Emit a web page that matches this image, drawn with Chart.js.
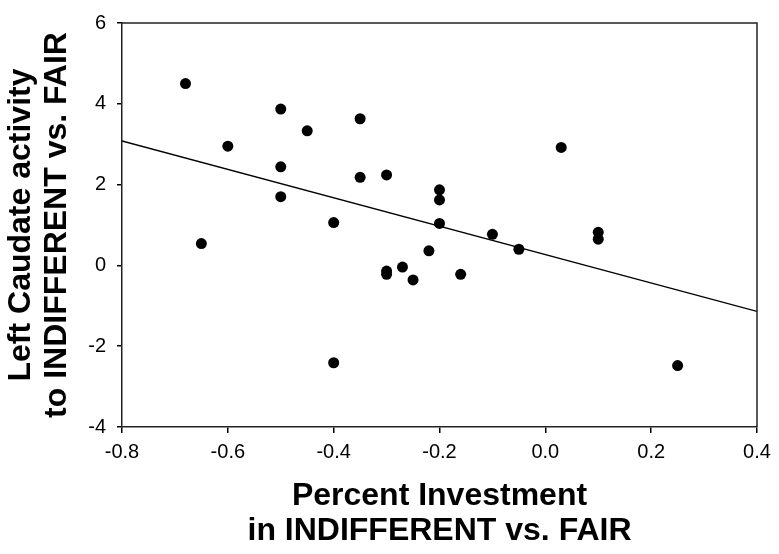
<!DOCTYPE html>
<html>
<head>
<meta charset="utf-8">
<script src="https://cdn.jsdelivr.net/npm/chart.js@4"></script>
<style>
  html, body { margin: 0; padding: 0; background: #fff; }
  canvas { display: block; }
</style>
</head>
<body>
<canvas id="myChart" width="779" height="554"></canvas>
<script>
// percent investment (x) vs. left caudate activity (y)
const investX = [-0.68, -0.65, -0.60, -0.50, -0.50, -0.50, -0.45, -0.40, -0.40, -0.35, -0.35, -0.30, -0.30, -0.30,
    -0.27, -0.25, -0.22, -0.20, -0.20, -0.20, -0.16, -0.10, -0.05, 0.03, 0.10, 0.10, 0.25];
const caudateY = [4.50, 0.54, 2.95, 3.87, 2.44, 1.70, 3.33, 1.06, -2.41, 3.63, 2.18, 2.24, -0.14, -0.22,
    -0.04, -0.36, 0.36, 1.87, 1.62, 1.04, -0.22, 0.77, 0.40, 2.92, 0.82, 0.65, -2.48];

// regression line end points
const fitX = [-0.8, 0.4];
const fitY = [3.08, -1.14];

const xTicks = [-0.8, -0.6, -0.4, -0.2, 0.0, 0.2, 0.4];
const xTickLabels = ['-0.8', '-0.6', '-0.4', '-0.2', '0.0', '0.2', '0.4'];
const yTicks = [-4, -2, 0, 2, 4, 6];
const yTickLabels = ['-4', '-2', '0', '2', '4', '6'];

const FONT = "'Liberation Sans', Arial, sans-serif";

const frame = {
    id: 'frame',
    afterDraw(chart) {
        const {ctx, chartArea: a} = chart;
        ctx.save();
        ctx.strokeStyle = '#222';
        ctx.lineWidth = 1.5;
        ctx.beginPath();
        ctx.moveTo(a.left, a.top);
        ctx.lineTo(a.right, a.top);
        ctx.lineTo(a.right, a.bottom);
        ctx.stroke();
        ctx.restore();
    }
};

function renderChart() {
    const ctx = document.getElementById('myChart');
    return new Chart(ctx, {
        type: 'scatter',
        data: {
            datasets: [{
                data: investX.map((x, i) => ({x: x, y: caudateY[i]})),
                pointRadius: 5.5,
                pointBackgroundColor: '#000',
                pointBorderWidth: 0,
                order: 0
            }, {
                type: 'line',
                data: fitX.map((x, i) => ({x: x, y: fitY[i]})),
                borderColor: '#000',
                borderWidth: 1.3,
                pointRadius: 0,
                fill: false,
                order: 1
            }]
        },
        plugins: [frame],
        options: {
            responsive: false,
            animation: false,
            layout: { padding: { top: 16, right: 22, left: 0, bottom: 0 } },
            plugins: {
                legend: { display: false },
                tooltip: { enabled: false }
            },
            scales: {
                x: {
                    type: 'linear',
                    min: -0.8,
                    max: 0.4,
                    afterBuildTicks: s => { s.ticks = xTicks.map(v => ({value: v})); },
                    afterFit: s => { s.height = 127; },
                    grid: { drawOnChartArea: false, drawTicks: true, tickLength: 6, color: '#000', lineWidth: 1.5 },
                    border: { color: '#222', width: 1.5 },
                    ticks: {
                        color: '#000',
                        font: { family: FONT, size: 20 },
                        padding: 7,
                        maxRotation: 0,
                        callback: (v, i) => xTickLabels[i]
                    },
                    title: {
                        display: true,
                        text: ['Percent Investment', 'in INDIFFERENT vs. FAIR'],
                        color: '#000',
                        font: { family: FONT, size: 32, weight: 'bold', lineHeight: 1.1 },
                        padding: { top: 0, bottom: 5 }
                    }
                },
                y: {
                    type: 'linear',
                    min: -4,
                    max: 6,
                    afterBuildTicks: s => { s.ticks = yTicks.map(v => ({value: v})); },
                    afterFit: s => { s.width = 122; },
                    grid: { drawOnChartArea: false, drawTicks: true, tickLength: 5, color: '#000', lineWidth: 1.5 },
                    border: { color: '#222', width: 1.5 },
                    ticks: {
                        color: '#000',
                        font: { family: FONT, size: 20 },
                        padding: 11,
                        callback: (v, i) => yTickLabels[i]
                    },
                    title: {
                        display: true,
                        text: ['Left Caudate activity', 'to INDIFFERENT vs. FAIR'],
                        color: '#000',
                        font: { family: FONT, size: 32, weight: 'bold', lineHeight: 1.1 },
                        padding: { top: 4, bottom: 0 }
                    }
                }
            }
        }
    });
}

renderChart();
</script>
</body>
</html>
